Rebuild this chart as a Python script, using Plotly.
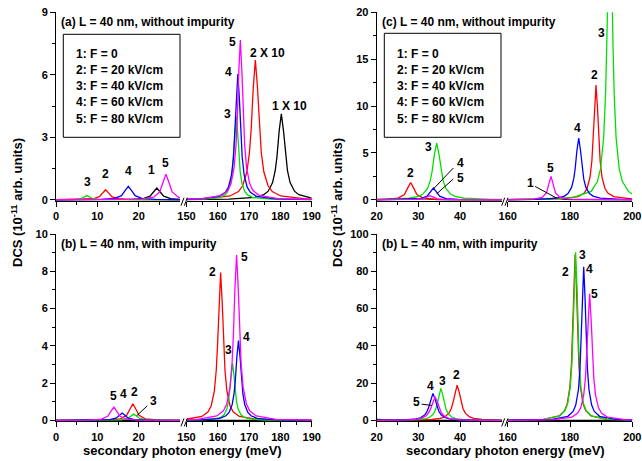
import plotly.graph_objects as go

# ---------------- data ----------------
# Panel (a): L = 40 nm, without impurity; left segment 0-30 meV
a1_lx = [0, 17.8, 21.1, 22.75, 23.74, 24.4, 25.06, 26.05, 27.7, 30]
a1_ly = [0, 0.015, 0.056, 0.172, 0.41, 0.56, 0.41, 0.172, 0.056, 0.021]
a2_lx = [0, 6, 9, 10.5, 11.4, 12, 12.6, 13.5, 15, 18, 30]
a2_ly = [0, 0.013, 0.048, 0.148, 0.353, 0.48, 0.353, 0.148, 0.048, 0.013, 0]
a3_lx = [0, 2.05, 4.75, 6.1, 6.91, 7.45, 7.99, 8.8, 10.15, 12.85, 30]
a3_ly = [0, 0.005, 0.02, 0.062, 0.147, 0.2, 0.147, 0.062, 0.02, 0.005, 0]
a4_lx = [0, 10.9, 14.2, 15.85, 16.84, 17.5, 18.16, 19.15, 20.8, 24.1, 30]
a4_ly = [0, 0.017, 0.064, 0.197, 0.47, 0.64, 0.47, 0.197, 0.064, 0.017, 0]
a5_lx = [0, 20.6, 23.6, 25.1, 26.0, 26.6, 27.2, 28.1, 29.6, 30]
a5_ly = [0, 0.033, 0.123, 0.379, 0.904, 1.23, 0.904, 0.379, 0.123, 0.098]
# Panel (a) right segment 150-190 meV (curves 1 and 2 shown x10)
a1_rx = [150, 163.5, 171.9, 174.7, 176.1, 177.5, 178.34, 178.9, 179.6, 180.3, 181.0, 181.7, 182.26, 183.1, 184.5, 185.9, 188.7, 190]
a1_ry = [0.009, 0.028, 0.111, 0.242, 0.412, 0.824, 1.393, 2.06, 3.296, 4.12, 3.296, 2.06, 1.393, 0.824, 0.412, 0.242, 0.111, 0.084]
a2_rx = [150, 155.8, 163.9, 166.6, 167.95, 169.3, 170.11, 170.65, 171.33, 172.0, 172.68, 173.35, 173.89, 174.7, 176.05, 177.4, 180.1, 188.2, 190]
a2_ry = [0.025, 0.046, 0.181, 0.395, 0.671, 1.342, 2.268, 3.355, 5.368, 6.71, 5.368, 3.355, 2.268, 1.342, 0.671, 0.395, 0.181, 0.046, 0.038]
a3_rx = [150, 155.1, 160.5, 162.3, 163.2, 164.1, 164.64, 165.0, 165.45, 165.9, 166.35, 166.8, 167.16, 167.7, 168.6, 169.5, 171.3, 176.7, 190]
a3_ry = [0.013, 0.028, 0.108, 0.235, 0.399, 0.798, 1.349, 1.995, 3.192, 3.99, 3.192, 1.995, 1.349, 0.798, 0.399, 0.235, 0.108, 0.028, 0.006]
a4_rx = [150, 154.4, 160.4, 162.4, 163.4, 164.4, 165.0, 165.4, 165.9, 166.4, 166.9, 167.4, 167.8, 168.4, 169.4, 170.4, 172.4, 178.4, 190]
a4_ry = [0.022, 0.042, 0.163, 0.355, 0.604, 1.208, 2.042, 3.02, 4.832, 6.04, 4.832, 3.02, 2.042, 1.208, 0.604, 0.355, 0.163, 0.042, 0.011]
a5_rx = [150, 155.2, 161.2, 163.2, 164.2, 165.2, 165.8, 166.2, 166.7, 167.2, 167.7, 168.2, 168.6, 169.2, 170.2, 171.2, 173.2, 179.2, 190]
a5_ry = [0.026, 0.053, 0.207, 0.451, 0.767, 1.534, 2.592, 3.835, 6.136, 7.67, 6.136, 3.835, 2.592, 1.534, 0.767, 0.451, 0.207, 0.053, 0.015]

# Panel (c): without impurity; left segment 20-50 meV
c1_lx = [20, 23.8, 27.4, 29.2, 30.28, 31.0, 31.72, 32.8, 34.6, 38.2, 50]
c1_ly = [0, 0.003, 0.012, 0.037, 0.088, 0.12, 0.088, 0.037, 0.012, 0.003, 0]
c2_lx = [20, 22.15, 25.15, 26.65, 27.55, 28.15, 28.75, 29.65, 31.15, 34.15, 50]
c2_ly = [0.027, 0.05, 0.184, 0.567, 1.352, 1.84, 1.352, 0.567, 0.184, 0.05, 0.004]
c3_lx = [20, 21.2, 27.8, 30.0, 31.1, 32.2, 32.86, 33.3, 33.85, 34.4, 34.95, 35.5, 35.94, 36.6, 37.7, 38.8, 41.0, 47.6, 50]
c3_ly = [0.035, 0.042, 0.163, 0.355, 0.604, 1.208, 2.042, 3.02, 4.832, 6.04, 4.832, 3.02, 2.042, 1.208, 0.604, 0.355, 0.163, 0.042, 0.03]
c4_lx = [20, 27.6, 30.6, 32.1, 33.0, 33.6, 34.2, 35.1, 36.6, 39.6, 50]
c4_ly = [0.007, 0.034, 0.125, 0.385, 0.919, 1.25, 0.919, 0.385, 0.125, 0.034, 0.005]
c5_lx = [20, 26.2, 29.5, 31.15, 32.14, 32.8, 33.46, 34.45, 36.1, 39.4, 50]
c5_ly = [0, 0.012, 0.043, 0.132, 0.316, 0.43, 0.316, 0.132, 0.043, 0.012, 0]
# Panel (c) right segment 160-200 meV
c1_rx = [160, 166.6, 171.1, 173.35, 174.7, 175.6, 176.5, 177.85, 180.1, 184.6, 200]
c1_ry = [0, 0.005, 0.02, 0.062, 0.147, 0.2, 0.147, 0.062, 0.02, 0.005, 0]
c2_rx = [160, 176.95, 182.65, 184.55, 185.5, 186.45, 187.02, 187.4, 187.875, 188.35, 188.825, 189.3, 189.68, 190.25, 191.2, 192.15, 194.05, 199.75, 200]
c2_ry = [0.014, 0.085, 0.331, 0.72, 1.225, 2.45, 4.14, 6.125, 9.8, 12.25, 9.8, 6.125, 4.14, 2.45, 1.225, 0.72, 0.331, 0.085, 0.081]
c3_rx = [160, 172.8, 180.8, 186.8, 188.8, 189.8, 190.8, 191.4, 191.8, 192.3, 192.8, 193.3, 193.8, 194.2, 194.8, 195.8, 196.8, 198.8, 200]
c3_ry = [0.031, 0.082, 0.228, 0.891, 1.94, 3.3, 6.6, 11.15, 16.5, 26.4, 33, 26.4, 16.5, 11.15, 6.6, 3.3, 1.94, 0.891, 0.613]
c4_rx = [160, 169.0, 175.9, 178.2, 179.35, 180.5, 181.19, 181.65, 182.225, 182.8, 183.375, 183.95, 184.41, 185.1, 186.25, 187.4, 189.7, 196.6, 200]
c4_ry = [0.017, 0.045, 0.177, 0.386, 0.657, 1.314, 2.221, 3.285, 5.256, 6.57, 5.256, 3.285, 2.221, 1.314, 0.657, 0.386, 0.177, 0.045, 0.029]
c5_rx = [160, 168.2, 171.05, 172.475, 173.33, 173.9, 174.47, 175.325, 176.75, 179.6, 200]
c5_ry = [0.012, 0.067, 0.248, 0.764, 1.823, 2.48, 1.823, 0.764, 0.248, 0.067, 0.003]

# Panel (b): with impurity; left segment 0-30 meV
b1_lx = [0, 30]
b1_ly = [0, 0]
b2_lx = [0, 12.6, 15.6, 17.1, 18.0, 18.6, 19.2, 20.1, 21.6, 24.6, 30]
b2_ly = [0.003, 0.024, 0.089, 0.274, 0.654, 0.89, 0.654, 0.274, 0.089, 0.024, 0.007]
b3_lx = [0, 12.8, 15.8, 17.3, 18.2, 18.8, 19.4, 20.3, 21.8, 24.8, 30]
b3_ly = [0, 0.009, 0.034, 0.105, 0.25, 0.34, 0.25, 0.105, 0.034, 0.009, 0]
b4_lx = [0, 10.0, 13.0, 14.5, 15.4, 16.0, 16.6, 17.5, 19.0, 22.0, 30]
b4_ly = [0, 0.011, 0.04, 0.123, 0.294, 0.4, 0.294, 0.123, 0.04, 0.011, 0]
b5_lx = [0, 8.0, 11.0, 12.5, 13.4, 14.0, 14.6, 15.5, 17.0, 20.0, 30]
b5_ly = [0, 0.019, 0.072, 0.222, 0.529, 0.72, 0.529, 0.222, 0.072, 0.019, 0]
# Panel (b) right segment 150-190 meV
b1_rx = [150, 190]
b1_ry = [0, 0]
b2_rx = [150, 154.9, 156.9, 157.9, 158.9, 159.5, 159.9, 160.4, 160.9, 161.4, 161.9, 162.3, 162.9, 163.9, 164.9, 166.9, 172.9, 190]
b2_ry = [0.066, 0.214, 0.466, 0.793, 1.586, 2.68, 3.965, 6.344, 7.93, 6.344, 3.965, 2.68, 1.586, 0.793, 0.466, 0.214, 0.055, 0.009]
b3_rx = [150, 153.9, 159.3, 161.1, 162.0, 162.9, 163.44, 163.8, 164.25, 164.7, 165.15, 165.6, 165.96, 166.5, 167.4, 168.3, 170.1, 175.5, 190]
b3_ry = [0.011, 0.021, 0.083, 0.181, 0.307, 0.614, 1.038, 1.535, 2.456, 3.07, 2.456, 1.535, 1.038, 0.614, 0.307, 0.181, 0.083, 0.021, 0.004]
b4_rx = [150, 154.6, 160.6, 162.6, 163.6, 164.6, 165.2, 165.6, 166.1, 166.6, 167.1, 167.6, 168.0, 168.6, 169.6, 170.6, 172.6, 178.6, 190]
b4_ry = [0.016, 0.03, 0.116, 0.252, 0.429, 0.858, 1.45, 2.145, 3.432, 4.29, 3.432, 2.145, 1.45, 0.858, 0.429, 0.252, 0.116, 0.03, 0.008]
b5_rx = [150, 153.4, 159.7, 161.8, 162.85, 163.9, 164.53, 164.95, 165.475, 166.0, 166.525, 167.05, 167.47, 168.1, 169.15, 170.2, 172.3, 178.6, 190]
b5_ry = [0.038, 0.061, 0.24, 0.522, 0.887, 1.774, 2.998, 4.435, 7.096, 8.87, 7.096, 4.435, 2.998, 1.774, 0.887, 0.522, 0.24, 0.061, 0.017]

# Panel (d) [labelled "(b)" on the right]: with impurity; left 20-50 meV
d1_lx = [20, 21, 22, 24, 28, 50]
d1_ly = [0.6, 0.4, 0.25, 0.12, 0.04, 0]
d2_lx = [20, 27.3, 33.3, 35.3, 36.3, 37.3, 37.9, 38.3, 38.8, 39.3, 39.8, 40.3, 40.7, 41.3, 42.3, 43.3, 45.3, 50]
d2_ly = [0.051, 0.131, 0.512, 1.114, 1.895, 3.79, 6.405, 9.475, 15.16, 18.95, 15.16, 9.475, 6.405, 3.79, 1.895, 1.114, 0.512, 0.164]
d3_lx = [20, 24.6, 30.0, 31.8, 32.7, 33.6, 34.14, 34.5, 34.95, 35.4, 35.85, 36.3, 36.66, 37.2, 38.1, 39.0, 40.8, 46.2, 50]
d3_ly = [0.059, 0.119, 0.464, 1.011, 1.72, 3.44, 5.814, 8.6, 13.76, 17.2, 13.76, 8.6, 5.814, 3.44, 1.72, 1.011, 0.464, 0.119, 0.065]
d4_lx = [20, 21.5, 27.5, 29.5, 30.5, 31.5, 32.1, 32.5, 33.0, 33.5, 34.0, 34.5, 34.9, 35.5, 36.5, 37.5, 39.5, 45.5, 50]
d4_ly = [0.079, 0.1, 0.392, 0.853, 1.45, 2.9, 4.901, 7.25, 11.6, 14.5, 11.6, 7.25, 4.901, 2.9, 1.45, 0.853, 0.392, 0.1, 0.053]
d5_lx = [20, 21.4, 27.7, 29.8, 30.85, 31.9, 32.53, 32.95, 33.475, 34.0, 34.525, 35.05, 35.47, 36.1, 37.15, 38.2, 40.3, 46.6, 50]
d5_ly = [0.071, 0.088, 0.343, 0.747, 1.27, 2.54, 4.293, 6.35, 10.16, 12.7, 10.16, 6.35, 4.293, 2.54, 1.27, 0.747, 0.343, 0.088, 0.055]
# Panel (d) right segment 160-200 meV
d1_rx = [160, 200]
d1_ry = [0, 0]
d2_rx = [160, 164.65, 171.45, 176.55, 178.25, 179.1, 179.95, 180.46, 180.8, 181.225, 181.65, 182.075, 182.5, 182.84, 183.35, 184.2, 185.05, 186.75, 191.85, 198.65, 200]
d2_ry = [0.137, 0.222, 0.614, 2.403, 5.233, 8.9, 17.8, 30.08, 44.5, 71.2, 89, 71.2, 44.5, 30.08, 17.8, 8.9, 5.233, 2.403, 0.614, 0.222, 0.19]
d3_rx = [160, 164.8, 171.6, 176.7, 178.4, 179.25, 180.1, 180.61, 180.95, 181.375, 181.8, 182.225, 182.65, 182.99, 183.5, 184.35, 185.2, 186.9, 192.0, 198.8, 200]
d3_ry = [0.137, 0.226, 0.622, 2.435, 5.304, 9.02, 18.04, 30.49, 45.1, 72.16, 90.2, 72.16, 45.1, 30.49, 18.04, 9.02, 5.304, 2.435, 0.622, 0.226, 0.196]
d4_rx = [160, 167.4, 174.2, 179.3, 181.0, 181.85, 182.7, 183.21, 183.55, 183.975, 184.4, 184.825, 185.25, 185.59, 186.1, 186.95, 187.8, 189.5, 194.6, 200]
d4_ry = [0.1, 0.206, 0.569, 2.225, 4.845, 8.24, 16.48, 27.85, 41.2, 65.92, 82.4, 65.92, 41.2, 27.85, 16.48, 8.24, 4.845, 2.225, 0.569, 0.244]
d5_rx = [160, 167.3, 174.9, 180.6, 182.5, 183.45, 184.4, 184.97, 185.35, 185.825, 186.3, 186.775, 187.25, 187.63, 188.2, 189.15, 190.1, 192.0, 197.7, 200]
d5_ry = [0.089, 0.17, 0.469, 1.836, 3.998, 6.8, 13.6, 22.98, 34.0, 54.4, 68, 54.4, 34.0, 22.98, 13.6, 6.8, 3.998, 1.836, 0.469, 0.325]

# tick values
ticks_l0 = [0, 10, 20]
minor_l0 = [5, 15, 25]
ticks_r150 = [150, 160, 170, 180, 190]
minor_r150 = [155, 165, 175, 185]
ticks_l20 = [20, 30, 40]
minor_l20 = [25, 35, 45]
ticks_r160 = [160, 180, 200]
minor_r160 = [170, 190]

legend_lines = ["1: F = 0", "2: F = 20 kV/cm", "3: F = 40 kV/cm", "4: F = 60 kV/cm", "5: F = 80 kV/cm"]
panel_titles = ["(a) L = 40 nm, without impurity", "(c) L = 40 nm, without impurity",
                "(b) L = 40 nm, with impurity", "(b) L = 40 nm, with impurity"]
y_title = "DCS (10<sup>-11</sup> arb. units)"
x_title = "secondary photon energy (meV)"

# curve labels: (text, x, y, xaxis, yaxis)
a_labels = [("3", 7.6, 0.83, "x", "y"), ("2", 11.9, 1.23, "x", "y"), ("4", 17.5, 1.36, "x", "y"),
            ("1", 23.2, 1.44, "x", "y"), ("5", 26.4, 1.76, "x", "y"),
            ("3", 163.2, 4.12, "x2", "y"), ("4", 163.3, 6.15, "x2", "y"), ("5", 164.8, 7.59, "x2", "y"),
            ("2 X 10", 175.8, 7.03, "x2", "y"), ("1 X 10", 183.0, 4.5, "x2", "y")]
c_labels = [("2", 28.0, 2.85, "x3", "y2"), ("3", 32.4, 5.68, "x3", "y2"), ("4", 40.0, 3.88, "x3", "y2"),
            ("5", 40.2, 2.28, "x3", "y2"), ("1", 167.2, 1.84, "x4", "y2"), ("5", 173.6, 3.38, "x4", "y2"),
            ("4", 182.5, 7.64, "x4", "y2"), ("2", 188.0, 13.3, "x4", "y2"), ("3", 190.2, 17.8, "x4", "y2")]
b_labels = [("5", 13.9, 1.32, "x5", "y3"), ("4", 16.45, 1.43, "x5", "y3"), ("2", 18.9, 1.55, "x5", "y3"),
            ("3", 23.5, 1.06, "x5", "y3"), ("2", 158.4, 7.98, "x6", "y3"), ("5", 168.4, 8.78, "x6", "y3"),
            ("3", 163.5, 3.79, "x6", "y3"), ("4", 169.3, 4.5, "x6", "y3")]
d_labels = [("4", 33.0, 18.6, "x7", "y4"), ("3", 35.8, 21.1, "x7", "y4"), ("2", 39.2, 24.3, "x7", "y4"),
            ("5", 29.6, 9.66, "x7", "y4"), ("2", 178.6, 79.8, "x8", "y4"), ("3", 183.95, 88.7, "x8", "y4"),
            ("4", 186.4, 81, "x8", "y4"), ("5", 188.0, 67.8, "x8", "y4")]
# pointer lines: (x0, y0, x1, y1, xaxis, yaxis)
pointers = [(38.38, 3.38, 33.58, 1.14, "x3", "y2"), (38.38, 2.21, 34.4, 0.64, "x3", "y2"),
            (168.8, 1.42, 175.7, 0.18, "x4", "y2"), (22.1, 0.79, 19.5, 0.25, "x5", "y3"),
            (30.8, 8.75, 33.2, 8.05, "x7", "y4")]

# ---------------- figure ----------------
W, H = 642, 461
FONT = "Liberation Sans, Arial, Helvetica, sans-serif"
COLORS = ["#000000", "#FF0000", "#00E000", "#0000FF", "#FF00FF"]


def px(x):
    return x / W


def py(y):
    return 1 - y / H


panels = [
    ([(a1_lx, a1_ly, a1_rx, a1_ry), (a2_lx, a2_ly, a2_rx, a2_ry), (a3_lx, a3_ly, a3_rx, a3_ry),
      (a4_lx, a4_ly, a4_rx, a4_ry), (a5_lx, a5_ly, a5_rx, a5_ry)], "x", "x2", "y"),
    ([(c1_lx, c1_ly, c1_rx, c1_ry), (c2_lx, c2_ly, c2_rx, c2_ry), (c3_lx, c3_ly, c3_rx, c3_ry),
      (c4_lx, c4_ly, c4_rx, c4_ry), (c5_lx, c5_ly, c5_rx, c5_ry)], "x3", "x4", "y2"),
    ([(b1_lx, b1_ly, b1_rx, b1_ry), (b2_lx, b2_ly, b2_rx, b2_ry), (b3_lx, b3_ly, b3_rx, b3_ry),
      (b4_lx, b4_ly, b4_rx, b4_ry), (b5_lx, b5_ly, b5_rx, b5_ry)], "x5", "x6", "y3"),
    ([(d1_lx, d1_ly, d1_rx, d1_ry), (d2_lx, d2_ly, d2_rx, d2_ry), (d3_lx, d3_ly, d3_rx, d3_ry),
      (d4_lx, d4_ly, d4_rx, d4_ry), (d5_lx, d5_ly, d5_rx, d5_ry)], "x7", "x8", "y4"),
]

fig = go.Figure()
for curves, xl, xr, ya in panels:
    for i, (lx, ly, rx, ry) in enumerate(curves):
        for xs, ys, xa in ((lx, ly, xl), (rx, ry, xr)):
            fig.add_trace(go.Scatter(x=xs, y=ys, xaxis=xa, yaxis=ya, mode="lines",
                                     line=dict(color=COLORS[i], width=1.3),
                                     showlegend=False, hoverinfo="skip"))

tickfont = dict(family=FONT, size=11, color="black", weight="bold")
common = dict(ticks="outside", ticklen=5, tickwidth=1, tickcolor="black", showline=True,
              linecolor="black", linewidth=1, showgrid=False, zeroline=False,
              tickfont=tickfont, layer="below traces", fixedrange=True, automargin=False,
              ticklabeloverflow="allow")


def xaxis(d0, d1, rng, tvals, mvals, anchor):
    return dict(domain=[px(d0), px(d1)], range=rng, anchor=anchor, tickmode="array",
                tickvals=tvals,
                minor=dict(tickmode="array", tickvals=mvals, ticks="outside", ticklen=3,
                           tickwidth=1, tickcolor="black", showgrid=False),
                **common)


def yaxis(bot, top, rng, dtick, mdtick, anchor):
    return dict(domain=[py(bot), py(top)], range=rng, anchor=anchor, tickmode="linear",
                tick0=0, dtick=dtick,
                minor=dict(tick0=0, dtick=mdtick, ticks="outside", ticklen=3,
                           tickwidth=1, tickcolor="black", showgrid=False),
                **common)


TOP_B, TOP_T = 200.7, 12.3
BOT_B, BOT_T = 421.4, 234.0
LA, LB, RA, RB = (56, 180), (186.5, 311.7), (376.7, 501.7), (507.7, 632.3)

layout = dict(
    width=W, height=H, margin=dict(l=0, r=0, t=0, b=0),
    paper_bgcolor="white", plot_bgcolor="white", hovermode=False,
    font=dict(family=FONT, color="black"),
    xaxis=xaxis(*LA, [0, 30], ticks_l0, minor_l0, "y"),
    xaxis2=xaxis(*LB, [150, 190], ticks_r150, minor_r150, "y"),
    xaxis3=xaxis(*RA, [20, 50], ticks_l20, minor_l20, "y2"),
    xaxis4=xaxis(*RB, [160, 200], ticks_r160, minor_r160, "y2"),
    xaxis5=xaxis(*LA, [0, 30], ticks_l0, minor_l0, "y3"),
    xaxis6=xaxis(*LB, [150, 190], ticks_r150, minor_r150, "y3"),
    xaxis7=xaxis(*RA, [20, 50], ticks_l20, minor_l20, "y4"),
    xaxis8=xaxis(*RB, [160, 200], ticks_r160, minor_r160, "y4"),
    yaxis=yaxis(TOP_B, TOP_T, [-0.045, 9], 3, 1.5, "x"),
    yaxis2=yaxis(TOP_B, TOP_T, [-0.1, 20], 5, 2.5, "x3"),
    yaxis3=yaxis(BOT_B, BOT_T, [-0.05, 10], 2, 1, "x5"),
    yaxis4=yaxis(BOT_B, BOT_T, [-0.5, 100], 20, 10, "x7"),
)
fig.update_layout(**layout)

ann = []
shapes = []
lab_font = dict(family=FONT, size=12, color="black", weight="bold")

# panel titles
for title, (xp, yp) in zip(panel_titles, [(59, 21.7), (380, 21.7), (59, 244), (380, 244)]):
    ann.append(dict(text=title, x=px(xp), y=py(yp), xref="paper", yref="paper",
                    xanchor="left", yanchor="middle", showarrow=False, font=lab_font))

# legend boxes
for (bx0, by0, bx1, by1, tx) in [(63.3, 34.3, 180, 137.3, 73.5), (384.3, 33.3, 501, 137.3, 395)]:
    shapes.append(dict(type="rect", xref="paper", yref="paper", x0=px(bx0), x1=px(bx1),
                       y0=py(by0), y1=py(by1), line=dict(color="black", width=1)))
    for k, line in enumerate(legend_lines):
        ann.append(dict(text=line, x=px(tx), y=py(53.5 + 16.25 * k), xref="paper", yref="paper",
                        xanchor="left", yanchor="middle", showarrow=False, font=lab_font))

# curve labels
for text, x, y, xr, yr in a_labels + c_labels + b_labels + d_labels:
    ann.append(dict(text=text, x=x, y=y, xref=xr, yref=yr, showarrow=False,
                    xanchor="center", yanchor="middle", font=lab_font))

for x0, y0, x1, y1, xr, yr in pointers:
    shapes.append(dict(type="line", xref=xr, yref=yr, x0=x0, y0=y0, x1=x1, y1=y1,
                       line=dict(color="black", width=1)))

# axis titles
for xp in (17, 337):
    ann.append(dict(text=y_title, x=px(xp), y=py(203), xref="paper", yref="paper",
                    textangle=-90, showarrow=False, xanchor="center", yanchor="middle",
                    font=dict(family=FONT, size=13, color="black", weight="bold")))
for xp in (183, 505):
    ann.append(dict(text=x_title, x=px(xp), y=py(450), xref="paper", yref="paper",
                    showarrow=False, xanchor="center", yanchor="middle",
                    font=dict(family=FONT, size=13, color="black", weight="bold")))

# axis-break marks "//"
for xc, yb in [(181.0, 200.7), (501.7, 200.7), (181.0, 421.4), (501.7, 421.4)]:
    for k in (0, 3.3):
        shapes.append(dict(type="line", xref="paper", yref="paper",
                           x0=px(xc + k), y0=py(yb + 5), x1=px(xc + k + 3), y1=py(yb - 3),
                           line=dict(color="black", width=1)))

fig.update_layout(annotations=ann, shapes=shapes)
fig.write_html("out.html", config={"displayModeBar": False},
               post_script="document.body.style.margin='0px';document.body.style.overflow='hidden';")
